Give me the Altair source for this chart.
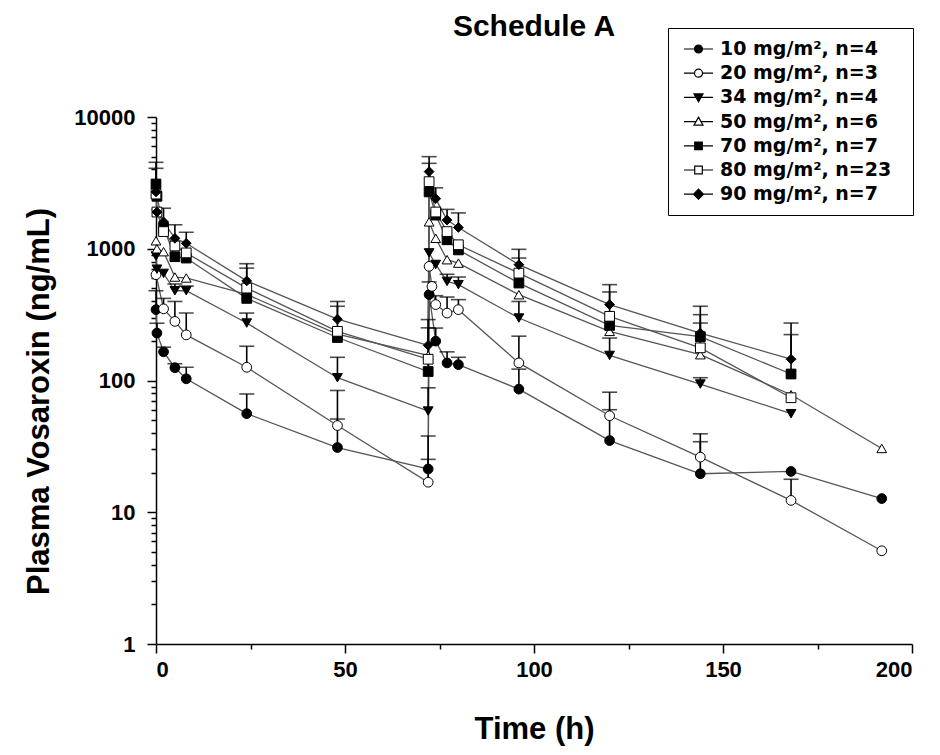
import altair as alt
import pandas as pd

# ---- data ----
TIME = [0, 0.25, 2, 5, 8, 24, 48, 72, 72.25, 73, 74, 77, 80, 96, 120, 144, 168, 192]

DOSES = ["10 mg/m², n=4", "20 mg/m², n=3", "34 mg/m², n=4", "50 mg/m², n=6",
         "70 mg/m², n=7", "80 mg/m², n=23", "90 mg/m², n=7"]

C10 = [345, 229, 165, 125, 103, 56, 31, 21.3, 449, None, 199, 136, 132, 86, 35, 19.6, 20.4, 12.7]
C20 = [635, None, 350, 281, 222, 126, 45.5, 16.9, 735, 518, 377, 325, 345, 136, 54, 26.2, 12.3, 5.1]
C34 = [880, 700, 650, 480, 480, 273, 105, 58.6, 930, None, 760, 565, 534, 298, 155, 94, 56, None]
C50 = [1150, 1000, 950, 610, 600, 450, 225, 155, 1600, None, 1200, 826, 778, 448, 236, 157, 78, 30.5]
C70 = [3100, 2500, 1450, 870, 850, 420, 212, 117, 2700, None, 1800, 1170, 980, 549, 262, 215, 112, None]
C80 = [2600, 1900, 1350, 1050, 930, 503, 236, 145, 3230, None, 1900, 1350, 1072, 653, 307, 177, 74, None]
C90 = [2700, 1900, 1600, 1200, 1100, 570, 292, 185, 3850, None, 2400, 1650, 1450, 757, 377, 229, 145, None]

E10 = [480, 272, 179, 134, 126, 79, 51, 25.2, 560, None, 250, 165, 150, 122, 60, 34.3, None, None]
E20 = [None, None, 420, 398, 325, 182, 84, 37.9, None, None, 440, 430, 411, 217, 81.5, 39.4, 17.8, None]
E34 = [None, None, None, 540, 520, 325, 150, 88, None, None, None, 640, 610, 398, 210, 105, None, None]
E50 = [None] * 18
E70 = [4080, None, None, None, None, 713, 366, 251, None, None, None, None, None, 850, 470, 316, 223, None]
E80 = [None, None, None, None, None, None, None, None, 4450, None, None, None, None, None, None, 273, None, None]
E90 = [4530, None, 2030, 1520, 1336, 770, 398, 290, 5000, None, 2900, 1990, 1870, 990, 534, 366, 273, None]

VALUES = [C10, C20, C34, C50, C70, C80, C90]
ERRORS = [E10, E20, E34, E50, E70, E80, E90]

TITLE = "Schedule A"
X_TITLE = "Time (h)"
Y_TITLE = "Plasma Vosaroxin (ng/mL)"

SHAPES = ["circle", "circle", "triangle-down", "triangle-up", "square", "square", "diamond"]
FILLS = ["black", "white", "black", "white", "black", "white", "black"]
SIZES = [95, 95, 115, 115, 105, 115, 155]

# legend symbols: short line with the marker in its middle (unit = 10 px);
# the trailing move-to widens the legend frame without drawing anything
FRAME = "M21.1,0"
LEG_PATHS = [
    "M-0.5,0H0.55M1.35,0H2.4M1.35,0A0.4,0.4,0,1,1,0.55,0A0.4,0.4,0,1,1,1.35,0Z" + FRAME,
    "M-0.5,0H0.55M1.35,0H2.4M1.35,0A0.4,0.4,0,1,1,0.55,0A0.4,0.4,0,1,1,1.35,0Z" + FRAME,
    "M-0.5,0H0.7M1.2,0H2.4M0.5,-0.35L1.4,-0.35L0.95,0.45Z" + FRAME,
    "M-0.5,0H0.7M1.2,0H2.4M0.95,-0.45L1.4,0.35L0.5,0.35Z" + FRAME,
    "M-0.5,0H0.57M1.33,0H2.4M0.57,-0.38H1.33V0.38H0.57Z" + FRAME,
    "M-0.5,0H0.57M1.33,0H2.4M0.57,-0.38H1.33V0.38H0.57Z" + FRAME,
    "M-0.5,0H0.45M1.45,0H2.4M0.95,-0.5L1.45,0L0.95,0.5L0.45,0Z" + FRAME,
]

rows, erows = [], []
for i, (lab, vals, errs) in enumerate(zip(DOSES, VALUES, ERRORS)):
    for t, v, e in zip(TIME, vals, errs):
        if v is None:
            continue
        rows.append({"series": lab, "k": i, "time": t, "conc": v})
        if e is not None:
            erows.append({"series": lab, "k": i, "time": t, "conc": v, "upper": e})
df = pd.DataFrame(rows)
de = pd.DataFrame(erows)

FONT = "Liberation Sans"
LEG_FONT = "DejaVu Sans"
YTICKS = [m * 10 ** k for k in range(0, 4) for m in range(1, 10)] + [10000]

W, H = 756, 527

xscale = alt.Scale(domain=[0, 200], nice=False, zero=False)
yscale = alt.Scale(type="log", domain=[1, 10000], nice=False)

xaxis = alt.Axis(values=list(range(0, 201, 25)),
                 labelExpr="datum.value % 50 === 0 ? datum.label : ''",
                 tickSize={"condition": {"test": "datum.value % 50 === 0", "value": 9}, "value": 5},
                 labelPadding=6, title=X_TITLE, titlePadding=34)
yaxis = alt.Axis(values=YTICKS, format="d",
                 labelExpr="indexof(['1','10','100','1000','10000'], datum.label) >= 0 ? datum.label : ''",
                 tickSize={"condition": {"test": "indexof([1,10,100,1000,10000], datum.value) >= 0", "value": 9}, "value": 5},
                 labelPadding=12, title=Y_TITLE, titlePadding=18, titleY=284)

X = alt.X("time:Q", scale=xscale, axis=xaxis)
Y = alt.Y("conc:Q", scale=yscale, axis=yaxis)

lines = alt.Chart(df).mark_line(color="#555555", strokeWidth=1.3).encode(
    x=X, y=Y, detail="series:N", order="time:Q")

rules = alt.Chart(de).mark_rule(color="black", strokeWidth=1.6).encode(
    x="time:Q", y="conc:Q", y2="upper:Q")

caps = alt.Chart(de).mark_tick(orient="horizontal", color="black", thickness=1.6, size=15).encode(
    x="time:Q", y="upper:Q")

points = alt.Chart(df).mark_point(opacity=1, stroke="black", strokeWidth=1).encode(
    x="time:Q", y="conc:Q",
    shape=alt.Shape("series:N", scale=alt.Scale(domain=DOSES, range=SHAPES), legend=None),
    fill=alt.Fill("series:N", scale=alt.Scale(domain=DOSES, range=FILLS), legend=None),
    size=alt.Size("series:O", scale=alt.Scale(domain=DOSES, range=SIZES), legend=None),
    order="k:Q")

leg = alt.Legend(orient="none", legendX=512, legendY=-89, title=None,
                 strokeColor="black", fillColor="white", padding=10,
                 symbolSize=400, symbolStrokeWidth=1.2, symbolStrokeColor="black",
                 labelFont=LEG_FONT, labelFontSize=19, labelFontWeight="bold", labelColor="black",
                 labelOffset=20, rowPadding=3.2, labelLimit=400)

legend_df = pd.DataFrame({"dose": DOSES})
legend_layer = alt.Chart(legend_df).transform_filter("false").mark_point(
    opacity=1, strokeWidth=1.2).encode(
    shape=alt.Shape("dose:N", scale=alt.Scale(domain=DOSES, range=LEG_PATHS), legend=leg),
    fill=alt.Fill("dose:N", scale=alt.Scale(domain=DOSES, range=FILLS), legend=leg),
    stroke=alt.Stroke("dose:N", scale=alt.Scale(domain=DOSES, range=["black"] * 7), legend=leg))

title_layer = alt.Chart(pd.DataFrame({"t": [TITLE]})).mark_text(
    font=FONT, fontSize=30, fontWeight="bold", color="black", align="center", baseline="alphabetic"
).encode(x=alt.value(W / 2), y=alt.value(-81), text="t:N")

chart = alt.layer(lines, rules, caps, points, legend_layer, title_layer).resolve_scale(
    shape="independent", fill="independent", stroke="independent"
).resolve_legend(shape="independent", fill="independent", stroke="independent").properties(
    width=W, height=H,
    autosize=alt.AutoSizeParams(type="none"),
    padding={"left": 148, "top": 109, "right": 16, "bottom": 102},
).configure_view(stroke=None).configure_axis(
    grid=False, domainColor="black", domainWidth=1.5, tickColor="black", tickWidth=1.5,
    labelFont=FONT, labelFontSize=22, labelFontWeight="bold", labelColor="black",
    titleFont=FONT, titleFontSize=31, titleFontWeight="bold", titleColor="black",
)

chart.save("out.html", embed_options={"renderer": "svg", "actions": False})
